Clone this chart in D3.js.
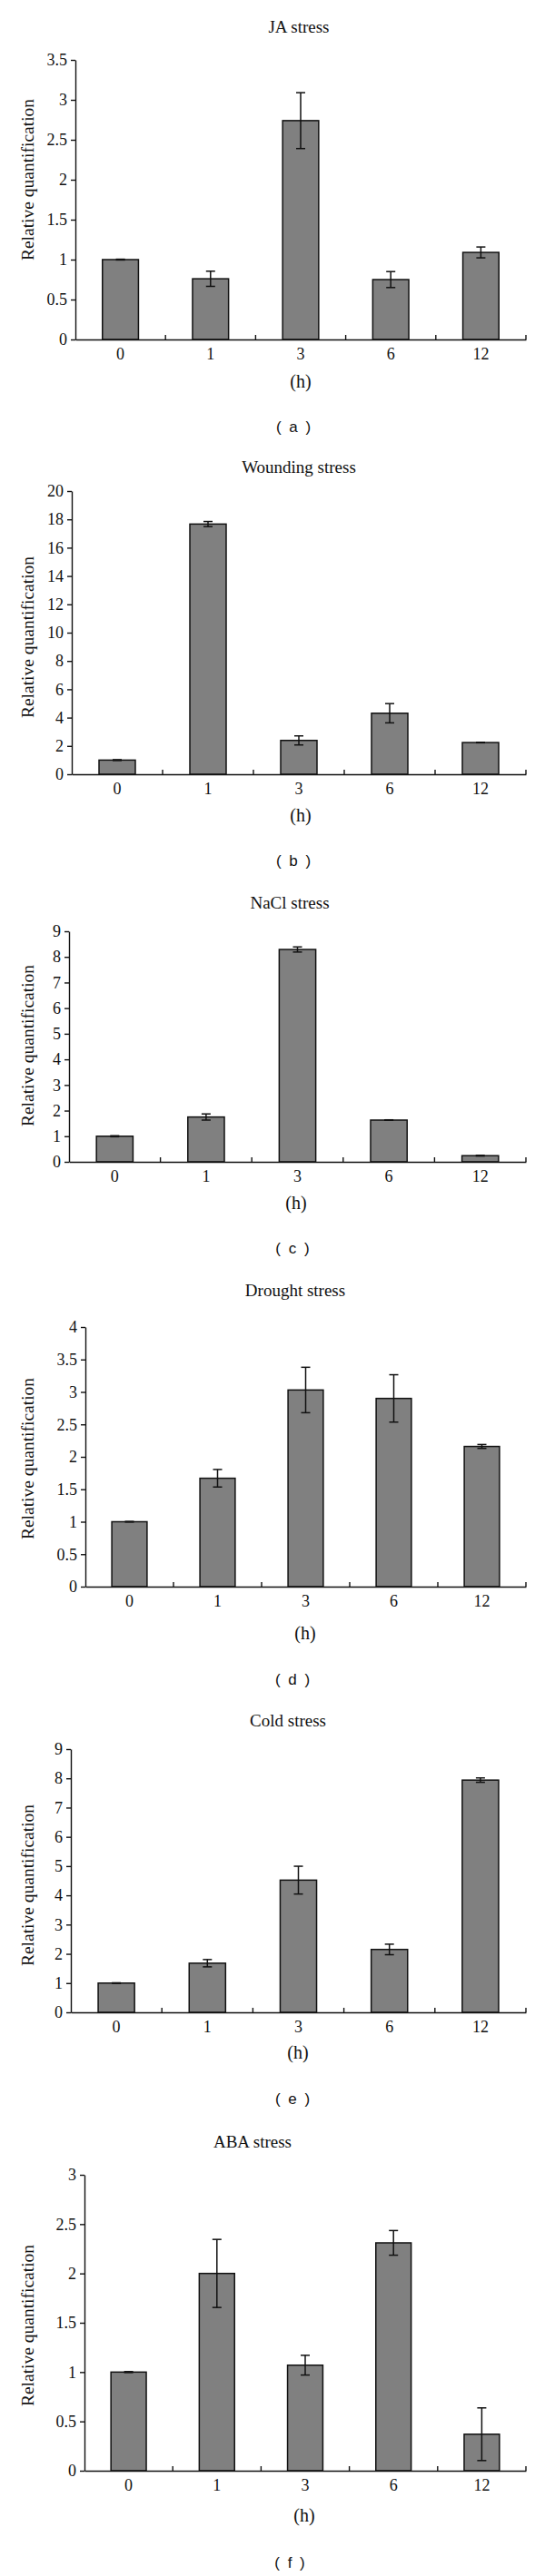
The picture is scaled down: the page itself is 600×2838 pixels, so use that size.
<!DOCTYPE html>
<html>
<head>
<meta charset="utf-8">
<script src="https://cdn.jsdelivr.net/npm/d3@7/dist/d3.min.js"></script>
<style>
  body { margin: 0; background: #fff; }
  svg { display: block; }
</style>
</head>
<body>
<div id="chart"></div>
<script>
// time points (h)
var hours = ["0", "1", "3", "6", "12"];

var titles = ["JA stress", "Wounding stress", "NaCl stress", "Drought stress", "Cold stress", "ABA stress"];
var letters = ["a", "b", "c", "d", "e", "f"];

// relative quantification, mean and error
var jaMean = [1.0, 0.76, 2.74, 0.75, 1.09];
var jaErr = [0.005, 0.095, 0.35, 0.10, 0.068];
var woundMean = [1.0, 17.67, 2.39, 4.31, 2.24];
var woundErr = [0.03, 0.18, 0.32, 0.68, 0.02];
var naclMean = [1.0, 1.75, 8.29, 1.63, 0.24];
var naclErr = [0.02, 0.12, 0.10, 0.01, 0.015];
var droughtMean = [1.0, 1.67, 3.03, 2.90, 2.16];
var droughtErr = [0.005, 0.135, 0.35, 0.365, 0.03];
var coldMean = [1.0, 1.68, 4.52, 2.15, 7.94];
var coldErr = [0.01, 0.125, 0.475, 0.18, 0.075];
var abaMean = [1.0, 2.0, 1.07, 2.31, 0.37];
var abaErr = [0.005, 0.345, 0.10, 0.125, 0.267];

// y tick labels
var jaTicks = ["0", "0.5", "1", "1.5", "2", "2.5", "3", "3.5"];
var woundTicks = ["0", "2", "4", "6", "8", "10", "12", "14", "16", "18", "20"];
var naclTicks = ["0", "1", "2", "3", "4", "5", "6", "7", "8", "9"];
var droughtTicks = ["0", "0.5", "1", "1.5", "2", "2.5", "3", "3.5", "4"];
var coldTicks = ["0", "1", "2", "3", "4", "5", "6", "7", "8", "9"];
var abaTicks = ["0", "0.5", "1", "1.5", "2", "2.5", "3"];

var means = [jaMean, woundMean, naclMean, droughtMean, coldMean, abaMean];
var errs = [jaErr, woundErr, naclErr, droughtErr, coldErr, abaErr];
var ticks = [jaTicks, woundTicks, naclTicks, droughtTicks, coldTicks, abaTicks];

// page layout of each panel
var layout = [
  {left: 83, top: 66,   bottom: 374,  tx: 329, ty: 36,   hx: 331, hy: 427,  sx: 323, sy: 476,  ly: 198},
  {left: 79, top: 541,  bottom: 853,  tx: 329, ty: 521,  hx: 331, hy: 905,  sx: 323, sy: 954,  ly: 702},
  {left: 76, top: 1026, bottom: 1280, tx: 319, ty: 1001, hx: 326, hy: 1332, sx: 322, sy: 1381, ly: 1152},
  {left: 94, top: 1462, bottom: 1748, tx: 325, ty: 1428, hx: 336, hy: 1806, sx: 322, sy: 1856, ly: 1607},
  {left: 78, top: 1927, bottom: 2217, tx: 317, ty: 1902, hx: 328, hy: 2268, sx: 322, sy: 2318, ly: 2077},
  {left: 93, top: 2396, bottom: 2722, tx: 278, ty: 2366, hx: 335, hy: 2778, sx: 319, sy: 2829, ly: 2562}
];
var right = 579;

var serif = "'Liberation Serif', 'Times New Roman', serif";
var sans = "'Liberation Sans', Arial, sans-serif";

var svg = d3.select("#chart")
  .append("svg")
  .attr("width", 600)
  .attr("height", 2838);

svg.append("rect")
  .attr("width", 600)
  .attr("height", 2838)
  .style("fill", "#fff");

layout.forEach(function(L, p) {
  var tickVals = ticks[p].map(Number);
  var maxY = d3.max(tickVals);

  var x = d3.scaleBand()
    .domain(hours)
    .range([L.left, right])
    .paddingInner(0.6)
    .paddingOuter(0.3);

  var y = d3.scaleLinear()
    .domain([0, maxY])
    .range([L.bottom, L.top]);

  var g = svg.append("g");

  // title
  g.append("text")
    .attr("x", L.tx)
    .attr("y", L.ty)
    .style("text-anchor", "middle")
    .style("font-family", serif)
    .style("font-size", "19px")
    .style("fill", "#111")
    .text(titles[p]);

  // bars
  var rows = hours.map(function(h, i) {
    return {h: h, v: means[p][i], e: errs[p][i]};
  });

  g.selectAll("rect.bar")
    .data(rows)
    .enter().append("rect")
    .attr("class", "bar")
    .attr("x", function(d) { return x(d.h); })
    .attr("y", function(d) { return y(d.v); })
    .attr("width", x.bandwidth())
    .attr("height", function(d) { return y(0) - y(d.v); })
    .style("fill", "#808080")
    .style("stroke", "#111")
    .style("stroke-width", 1.5);

  // error bars
  var eb = g.selectAll("g.err")
    .data(rows)
    .enter().append("g")
    .attr("class", "err")
    .style("stroke", "#111")
    .style("stroke-width", 1.5);

  var cx = function(d) { return x(d.h) + x.bandwidth() / 2; };
  eb.append("line")
    .attr("x1", cx).attr("x2", cx)
    .attr("y1", function(d) { return y(d.v + d.e); })
    .attr("y2", function(d) { return y(d.v - d.e); });
  eb.append("line")
    .attr("x1", function(d) { return cx(d) - 5; })
    .attr("x2", function(d) { return cx(d) + 5; })
    .attr("y1", function(d) { return y(d.v + d.e); })
    .attr("y2", function(d) { return y(d.v + d.e); });
  eb.append("line")
    .attr("x1", function(d) { return cx(d) - 5; })
    .attr("x2", function(d) { return cx(d) + 5; })
    .attr("y1", function(d) { return y(d.v - d.e); })
    .attr("y2", function(d) { return y(d.v - d.e); });

  // y axis
  var yAxis = d3.axisLeft(y)
    .tickValues(tickVals)
    .tickFormat(function(d, i) { return ticks[p][i]; })
    .tickSize(5)
    .tickSizeOuter(0)
    .tickPadding(4);

  var ya = g.append("g")
    .attr("transform", "translate(" + L.left + ",0)")
    .call(yAxis);
  ya.selectAll("path, line").style("stroke", "#111").style("stroke-width", 1.4);
  ya.selectAll("text")
    .style("font-family", serif)
    .style("font-size", "18px")
    .style("fill", "#111");

  // x axis: labels under bars, short ticks up at band edges
  var xAxis = d3.axisBottom(x)
    .tickSize(0)
    .tickSizeOuter(0)
    .tickPadding(9);

  var xa = g.append("g")
    .attr("transform", "translate(0," + L.bottom + ")")
    .call(xAxis);
  xa.select(".domain").style("stroke", "#111").style("stroke-width", 1.4);
  xa.selectAll("text")
    .style("font-family", serif)
    .style("font-size", "18px")
    .style("fill", "#111");

  g.selectAll("line.xtick")
    .data(hours)
    .enter().append("line")
    .attr("class", "xtick")
    .attr("x1", function(h) { return x(h) + x.step() * 0.7; })
    .attr("x2", function(h) { return x(h) + x.step() * 0.7; })
    .attr("y1", L.bottom)
    .attr("y2", L.bottom - 5)
    .style("stroke", "#111")
    .style("stroke-width", 1.4);

  // axis titles
  g.append("text")
    .attr("transform", "translate(37," + L.ly + ") rotate(-90)")
    .style("text-anchor", "middle")
    .style("font-family", serif)
    .style("font-size", "19.5px")
    .style("fill", "#111")
    .text("Relative quantification");

  g.append("text")
    .attr("x", L.hx)
    .attr("y", L.hy)
    .style("text-anchor", "middle")
    .style("font-family", serif)
    .style("font-size", "20px")
    .style("fill", "#111")
    .text("(h)");

  // panel letter
  g.append("text")
    .attr("x", L.sx + 1)
    .attr("y", L.sy)
    .style("text-anchor", "middle")
    .style("font-family", sans)
    .style("font-size", "17px")
    .style("letter-spacing", "2px")
    .style("fill", "#111")
    .text("( " + letters[p] + " )");
});
</script>
</body>
</html>
